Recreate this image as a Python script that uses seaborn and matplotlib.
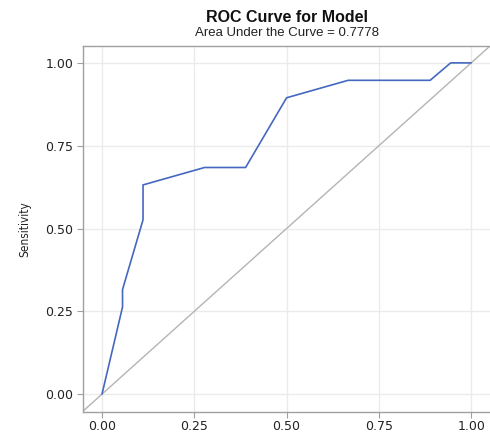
import matplotlib
matplotlib.use("Agg")
import matplotlib.pyplot as plt
import seaborn as sns
import pandas as pd

# ROC curve data (1 - specificity, sensitivity)
fpr = [0.0, 0.0556, 0.0556, 0.1111, 0.1111, 0.2778, 0.3889, 0.5, 0.6667, 0.8889, 0.9444, 1.0]
tpr = [0.0, 0.2632, 0.3158, 0.5263, 0.6316, 0.6842, 0.6842, 0.8947, 0.9474, 0.9474, 1.0, 1.0]
ref_x = [-0.06, 1.06]
ref_y = [-0.06, 1.06]
ticks = [0.0, 0.25, 0.5, 0.75, 1.0]
tick_labels = ["0.00", "0.25", "0.50", "0.75", "1.00"]
title = "ROC Curve for Model"
subtitle = "Area Under the Curve = 0.7778"
ylabel = "Sensitivity"

sns.set_theme(style="white")
plt.rcParams["font.family"] = ["DejaVu Sans"]

fig = plt.figure(figsize=(4.9, 4.32), dpi=100)
ax = fig.add_axes([83 / 490, 1 - 412 / 432, 1 - 83 / 490, (412 - 46) / 432])

df = pd.DataFrame({"fpr": fpr, "tpr": tpr})
ax.plot(ref_x, ref_y, color="#b4b4b4", lw=1.0, zorder=2)
sns.lineplot(data=df, x="fpr", y="tpr", sort=False, estimator=None,
             color="#4468c0", lw=1.2, ax=ax, zorder=3)

ax.set_xlim(-0.0515, 1.051)
ax.set_ylim(-0.054, 1.051)
ax.set_xticks(ticks)
ax.set_xticklabels(tick_labels)
ax.set_yticks(ticks)
ax.set_yticklabels(tick_labels)
ax.grid(True, color="#ebebeb", lw=1.0, zorder=0)
ax.set_axisbelow(True)
ax.tick_params(axis="both", which="both", length=4, width=0.8, color="#a0a0a0",
               labelsize=9, labelcolor="#222222", pad=3, direction="out",
               bottom=True, left=True)
ax.tick_params(axis="x", pad=1.5)
for side in ["left", "bottom", "top"]:
    ax.spines[side].set_visible(True)
    ax.spines[side].set_color("#a0a0a0")
    ax.spines[side].set_linewidth(1.0)
ax.spines["right"].set_visible(False)

ax.set_xlabel("")
ax.set_ylabel(ylabel, family=["DejaVu Sans"], fontstretch="condensed",
              fontsize=8.5, color="#222222", labelpad=10)

fig.text(287 / 490, 1 - 17 / 432, title, ha="center", va="center",
         fontsize=11.5, fontweight="bold", family=["Liberation Sans", "DejaVu Sans"],
         color="#111111")
fig.text(287 / 490, 1 - 33 / 432, subtitle, ha="center", va="center",
         fontsize=9.5, family=["Liberation Sans", "DejaVu Sans"], color="#222222")

fig.savefig("out.png", dpi=100)
